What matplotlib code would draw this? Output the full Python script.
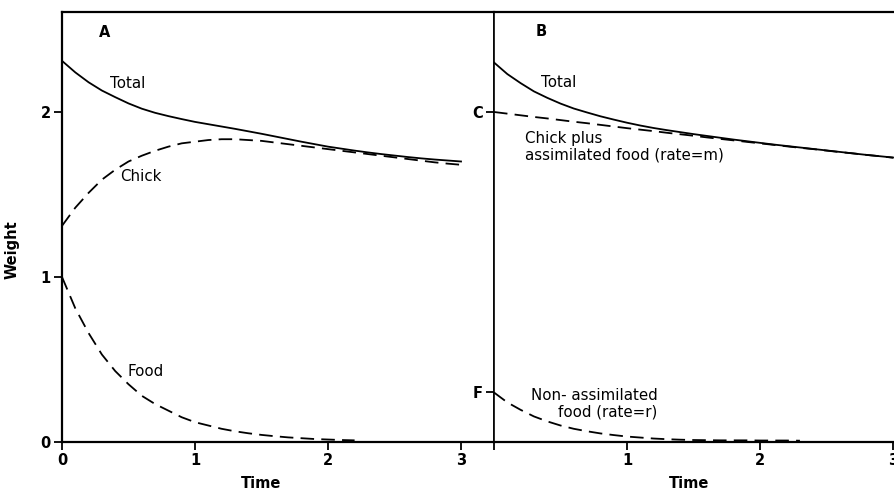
import matplotlib
matplotlib.use("Agg")
import matplotlib.pyplot as plt
from matplotlib.transforms import blended_transform_factory

plt.rcParams['font.family'] = ['DejaVu Sans']

# ---- data ----
t_full = [round(0.1 * i, 1) for i in range(31)]
t_food = [round(0.1 * i, 1) for i in range(23)]
t_nonassim = [round(0.1 * i, 1) for i in range(24)]

a_total = [2.31, 2.24, 2.18, 2.13, 2.09, 2.052, 2.02, 1.995, 1.975, 1.957, 1.94,
           1.926, 1.912, 1.898, 1.883, 1.868, 1.852, 1.836, 1.82, 1.805, 1.79,
           1.778, 1.766, 1.755, 1.745, 1.736, 1.727, 1.719, 1.712, 1.706, 1.70]
a_chick = [1.31, 1.42, 1.51, 1.59, 1.65, 1.70, 1.735, 1.765, 1.79, 1.81, 1.82,
           1.83, 1.835, 1.835, 1.83, 1.825, 1.815, 1.805, 1.795, 1.785, 1.775,
           1.765, 1.755, 1.745, 1.735, 1.725, 1.715, 1.705, 1.695, 1.687, 1.68]
a_food = [1.00, 0.81, 0.66, 0.53, 0.43, 0.35, 0.28, 0.23, 0.19, 0.15, 0.12,
          0.10, 0.08, 0.065, 0.053, 0.043, 0.035, 0.028, 0.023, 0.018, 0.015,
          0.012, 0.010]

b_total = [2.30, 2.23, 2.175, 2.125, 2.086, 2.051, 2.021, 1.997, 1.974, 1.954,
           1.935, 1.918, 1.903, 1.89, 1.878, 1.866, 1.855, 1.844, 1.833, 1.823,
           1.813, 1.803, 1.794, 1.785, 1.776, 1.767, 1.758, 1.749, 1.74, 1.732,
           1.724]
b_chick_assim = [2.00, 1.99, 1.98, 1.97, 1.961, 1.951, 1.941, 1.932, 1.922,
                 1.912, 1.902, 1.893, 1.884, 1.874, 1.865, 1.856, 1.846, 1.837,
                 1.828, 1.819, 1.81, 1.801, 1.792, 1.783, 1.775, 1.766, 1.757,
                 1.749, 1.74, 1.732, 1.723]
b_nonassim = [0.30, 0.24, 0.195, 0.155, 0.125, 0.10, 0.08, 0.065, 0.052, 0.042,
              0.033, 0.027, 0.021, 0.017, 0.014, 0.012, 0.011, 0.010, 0.010,
              0.010, 0.009, 0.009, 0.009, 0.008]

x_ticks = [0, 1, 2, 3]
y_ticks_a = [0, 1, 2]
y_ticklabels_a = ['0', '1', '2']
y_ticks_b = [0.30, 2.00]
y_ticklabels_b = ['F', 'C']

# ---- figure ----
W, H = 894, 491
fig = plt.figure(figsize=(W / 100, H / 100), dpi=100)
fig.patch.set_facecolor('white')

ax_a = fig.add_axes([62 / W, 49 / H, 432 / W, 430 / H])
ax_b = fig.add_axes([494 / W, 49 / H, 413 / W, 430 / H])

line_kw = dict(color='black', lw=1.3)
dash_kw = dict(color='black', lw=1.3, dashes=(7.5, 4))

ax_a.plot(t_full, a_total, **line_kw)
ax_a.plot(t_full, a_chick, **dash_kw)
ax_a.plot(t_food, a_food, **dash_kw)

ax_b.plot(t_full, b_total, **line_kw)
ax_b.plot(t_full, b_chick_assim, **dash_kw)
ax_b.plot(t_nonassim, b_nonassim, **dash_kw)

ax_a.set_xlim(0, 3.248)
ax_b.set_xlim(0, 3.105)
for ax in (ax_a, ax_b):
    ax.set_ylim(0, 2.606)
    ax.set_xticks(x_ticks)
    ax.tick_params(direction='out', length=6, width=1.3, colors='black',
                   labelsize=10.5, pad=2)
    for s in ax.spines.values():
        s.set_linewidth(1.6)
    ax.spines['right'].set_visible(False)

ax_a.set_xticklabels(['0', '1', '2', '3'], fontweight='bold')
ax_a.set_yticks(y_ticks_a)
ax_a.set_yticklabels(y_ticklabels_a, fontweight='bold')

ax_b.set_xticklabels(['', '1', '2', '3'], fontweight='bold')
ax_b.set_yticks(y_ticks_b)
ax_b.set_yticklabels(y_ticklabels_b, fontweight='bold')
ax_b.spines['left'].set_linewidth(1.2)

# right spine of left panel (shared boundary)
ax_a.spines['right'].set_visible(True)
ax_a.spines['right'].set_linewidth(1.2)

# annotations
tk = dict(fontsize=10.8, color='black')
ax_a.text(0.28, 2.48, 'A', fontsize=10.5, fontweight='bold', va='center')
ax_a.text(0.36, 2.17, 'Total', va='center', **tk)
ax_a.text(0.44, 1.61, 'Chick', va='center', **tk)
ax_a.text(0.49, 0.43, 'Food', va='center', **tk)

ax_b.text(0.31, 2.49, 'B', fontsize=10.5, fontweight='bold', va='center')
ax_b.text(0.35, 2.18, 'Total', va='center', **tk)
ax_b.text(0.23, 1.84, 'Chick plus', va='center', **tk)
ax_b.text(0.23, 1.74, 'assimilated food (rate=m)', va='center', **tk)
ax_b.text(1.23, 0.28, 'Non- assimilated', va='center', ha='right', **tk)
ax_b.text(1.23, 0.18, 'food (rate=r)', va='center', ha='right', **tk)

# axis labels
tr_a = blended_transform_factory(ax_a.transData, fig.transFigure)
tr_b = blended_transform_factory(ax_b.transData, fig.transFigure)
ax_a.text(1.5, 8 / H, 'Time', transform=tr_a, ha='center', va='center',
          fontsize=10.5, fontweight='bold')
ax_b.text(1.47, 8 / H, 'Time', transform=tr_b, ha='center', va='center',
          fontsize=10.5, fontweight='bold')
fig.text(12 / W, 1 - 250 / H, 'Weight', rotation=90, ha='center', va='center',
         fontsize=10.5, fontweight='bold')

fig.savefig('out.png', dpi=100, facecolor='white')
